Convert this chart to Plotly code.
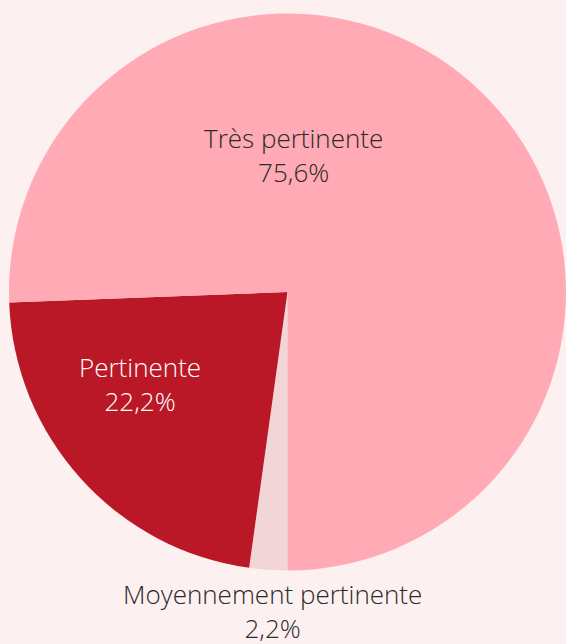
import plotly.graph_objects as go

categories = ["Moyennement pertinente", "Pertinente", "Très pertinente"]
values = [2.2, 22.2, 75.6]
value_labels = ["2,2%", "22,2%", "75,6%"]
colors = ["#F2D6D7", "#BA1826", "#FFAAB4"]
text_colors = ["#2a2a2a", "#ffffff", "#2a2a2a"]
label_pos = [(272, 611), (140, 384), (293, 155)]  # pixel centres of labels

W, H = 566, 644
fig = go.Figure(go.Pie(
    labels=categories,
    values=values,
    sort=False,
    direction="clockwise",
    rotation=180,
    marker=dict(colors=colors, line=dict(width=0)),
    textinfo="none",
    hoverinfo="label+percent",
    domain=dict(x=[9 / W, 1.0], y=[(H - 572) / H, (H - 12) / H]),
    showlegend=False,
))

for cat, lab, tc, (px, py) in zip(categories, value_labels, text_colors, label_pos):
    fig.add_annotation(
        x=px / W, y=1 - py / H, xref="paper", yref="paper",
        text=f"{cat}<br>{lab}", showarrow=False,
        xanchor="center", yanchor="middle", align="center",
        font=dict(family="Open Sans", size=26, color=tc, weight=300),
    )

fig.update_layout(
    width=W, height=H,
    margin=dict(l=0, r=0, t=0, b=0),
    paper_bgcolor="#FDF0F0",
    plot_bgcolor="#FDF0F0",
)
fig.write_html(
    "out.html",
    config={"displayModeBar": False},
    post_script="document.body.style.margin='0';document.body.style.padding='0';",
)
